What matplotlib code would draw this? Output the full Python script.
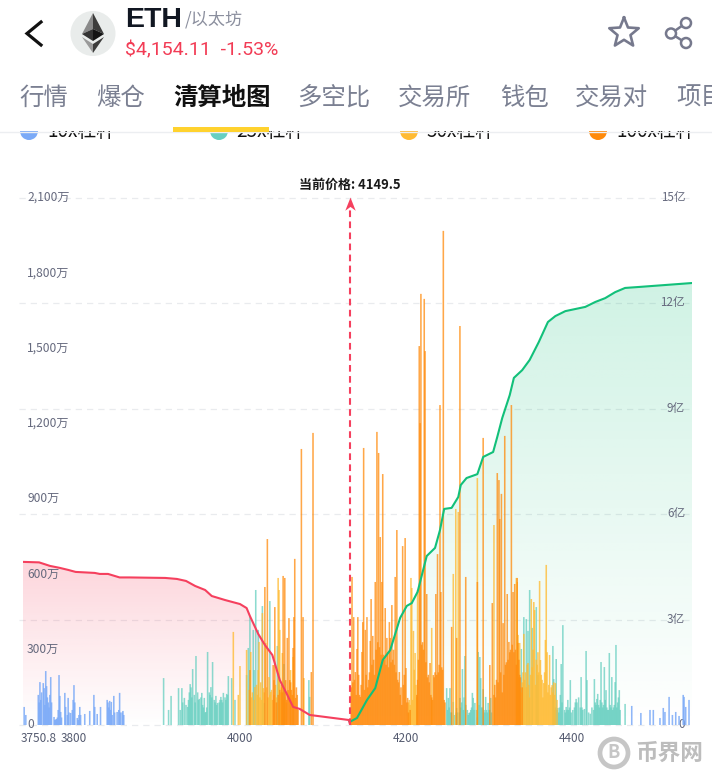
import numpy as np
import matplotlib
matplotlib.use("Agg")
import matplotlib.pyplot as plt
from matplotlib.patches import Polygon, Circle, Rectangle, Ellipse
from matplotlib.path import Path
from matplotlib.transforms import ScaledTranslation

FONT = ['Noto Sans CJK SC', 'DejaVu Sans']
plt.rcParams['font.family'] = FONT

# ---------- data ----------
LEFT_TICKS = [0, 300, 600, 900, 1200, 1500, 1800, 2100]
LEFT_LABELS = ['0', '300万', '600万', '900万', '1,200万', '1,500万', '1,800万', '2,100万']
RIGHT_TICKS = [0, 3, 6, 9, 12, 15]
RIGHT_LABELS = ['0', '3亿', '6亿', '9亿', '12亿', '15亿']
X_TICKS = [3757, 3800, 4000, 4200, 4400]
X_LABELS = ['3750.8', '3800', '4000', '4200', '4400']
CURRENT_X = 4132.5
CURRENT_LABEL = '当前价格: 4149.5'

blue_x = [3740, 3742, 3757, 3759, 3763, 3764, 3766, 3767, 3771, 3772, 3776, 3779, 3782, 3783, 3784, 3789, 3790,
          3793, 3796, 3799, 3800, 3804, 3806, 3807, 3813, 3819, 3824, 3825, 3828, 3832, 3840, 3843, 3845, 3846,
          3848, 3852, 3855, 3859,
          4472, 4483, 4494, 4498, 4506, 4510, 4512, 4517, 4521, 4525, 4529, 4534, 4535, 4537, 4541,
          3758, 3760, 3761, 3765, 3768, 3769, 3770, 3773, 3777, 3778, 3780, 3781, 3785, 3792, 3794, 3798, 3801,
          3805, 3808, 3841, 3842, 3844, 3849, 3854, 3856, 3858, 3860]
blue_v = [72, 40, 120, 171, 167, 147, 215, 155, 120, 191, 32, 24, 199, 116, 52, 128, 72,
          108, 48, 100, 159, 28, 40, 72, 44, 56, 120, 72, 44, 72, 100, 96, 92, 40,
          116, 52, 128, 56,
          76, 48, 60, 60, 28, 68, 52, 112, 40, 52, 36, 120, 112, 72, 100,
          90, 100, 130, 80, 110, 90, 70, 90, 20, 22, 30, 60, 30, 40, 50, 60, 90,
          20, 40, 90, 70, 60, 50, 60, 50, 50, 40]

teal_x = [3908, 3914, 3917, 3926, 3930, 3933, 3937, 3940, 3943, 3947, 3951, 3954, 3957, 3959, 3961, 3965, 3967,
          3971, 3973, 3977, 3980, 3984, 3986, 3990, 3994, 4008, 4010, 4012, 4016, 4017, 4019, 4022, 4027, 4029,
          4036, 4045, 4047, 4053, 4083, 4084,
          4249, 4251, 4253, 4257, 4261, 4265, 4268, 4271, 4276, 4280, 4281, 4283, 4287, 4289, 4290, 4293, 4296,
          4299, 4302,
          4339, 4342, 4345, 4347, 4349, 4352, 4357, 4359, 4377, 4378, 4381, 4383, 4386, 4387, 4389, 4393, 4395,
          4398, 4401, 4405, 4411, 4415, 4417, 4418, 4427, 4430, 4431, 4435, 4439, 4441, 4445, 4448, 4452, 4453,
          4457, 4464]
teal_v = [187, 60, 116, 147, 147, 108, 72, 163, 223, 275, 104, 128, 108, 52, 291, 151, 251,
          116, 88, 112, 128, 124, 195, 187, 100, 199, 307, 430, 379, 219, 538, 379, 474, 88,
          494, 315, 207, 243, 179, 112,
          147, 108, 147, 92, 68, 108, 223, 275, 48, 128, 108, 88, 291, 271, 187, 143, 112,
          88, 108,
          303, 430, 422, 375, 538, 387, 470, 199, 315, 183, 263, 68, 120, 243, 398, 72, 100,
          179, 60, 104, 191, 64, 295, 179, 183, 104, 124, 251, 231, 139, 287, 191, 171, 319,
          139, 84]
teal_floor_x = [3928, 3931, 3935, 3938, 3939, 3941, 3942, 3945, 3946, 3949, 3950, 3953, 3955, 3956, 3958, 3960, 3963,
                3964, 3966, 3969, 3970, 3972, 3975, 3976, 3978, 3979, 3982, 3983, 3985,
                4250, 4252, 4254, 4255, 4258, 4260, 4262, 4264, 4266, 4267, 4269, 4270, 4272, 4274, 4275, 4277, 4278,
                4279, 4282, 4285, 4286, 4288, 4291, 4292, 4294, 4295, 4297, 4298, 4300, 4301, 4303,
                4379, 4380, 4382, 4384, 4385, 4388, 4391, 4392, 4394, 4396, 4397, 4399, 4403, 4404, 4406, 4408, 4410,
                4412, 4413, 4420, 4422, 4424, 4426, 4428, 4429, 4432, 4433, 4434, 4436, 4437, 4438, 4440, 4442, 4443,
                4444, 4446, 4447, 4449, 4450, 4451, 4454, 4455, 4456, 4458]
teal_floor_v = [60, 90, 80, 100, 130, 150, 110, 120, 90, 130, 100, 110, 80, 70, 50, 70, 130,
                120, 110, 100, 90, 80, 90, 100, 100, 90, 110, 100, 120,
                60, 70, 50, 50, 40, 50, 50, 50, 70, 90, 60, 110, 80, 60, 40, 50, 60,
                70, 60, 60, 30, 80, 70, 70, 60, 50, 60, 50, 60, 60, 50,
                60, 70, 60, 50, 70, 90, 60, 50, 60, 60, 70, 50, 70, 90, 90, 110, 70,
                70, 60, 50, 45, 70, 60, 90, 80, 80, 70, 100, 90, 70, 80, 100, 70, 60,
                60, 80, 70, 60, 70, 80, 70, 90, 110, 60]

yellow_x = [3992, 3998, 4000, 4008, 4013, 4018, 4022, 4023, 4027, 4028, 4031, 4035, 4037, 4046, 4047, 4048, 4051,
            4061, 4064, 4077,
            4204, 4206, 4207, 4209, 4211, 4214, 4231, 4257, 4260, 4263, 4286, 4306,
            4333, 4334, 4335, 4337, 4342, 4345, 4347, 4349, 4351, 4354, 4355, 4358, 4361, 4362, 4365, 4366, 4368,
            4369, 4371, 4373, 4376, 4380]
yellow_v = [371, 120, 235, 299, 291, 151, 219, 331, 446, 147, 327, 191, 132, 586, 538, 379, 287,
            219, 271, 187,
            100, 586, 546, 375, 287, 538, 387, 602, 861, 849, 984, 797,
            586, 570, 359, 327, 363, 150, 247, 110, 502, 490, 458, 240, 574, 259, 110, 167, 339,
            638, 130, 279, 159, 167]
yellow_floor_x = [4011, 4014, 4015, 4017, 4020, 4021, 4024, 4025, 4026, 4029, 4032, 4034, 4036, 4038, 4039, 4041, 4043,
                  4044, 4049, 4050, 4052, 4054, 4056,
                  4203, 4205, 4208, 4210, 4212, 4213,
                  4336, 4338, 4339, 4340, 4341, 4343, 4344, 4346, 4348, 4350, 4352, 4353, 4356, 4357, 4359, 4360,
                  4363, 4364, 4367, 4370, 4372, 4374, 4375, 4377, 4378, 4379, 4382]
yellow_floor_v = [140, 110, 130, 100, 160, 120, 110, 170, 100, 130, 150, 110, 120, 140, 100, 120, 160,
                  110, 130, 150, 100, 110, 90,
                  90, 80, 100, 220, 160, 110,
                  190, 150, 130, 170, 210, 180, 210, 240, 160, 200, 230, 300, 160, 260, 290, 210,
                  200, 180, 210, 290, 160, 120, 150, 130, 170, 120, 100]

orange_x = [4012, 4030, 4033, 4040, 4041, 4042, 4052, 4053, 4054, 4055, 4056, 4057, 4058, 4059, 4060, 4062, 4063, 4064,
            4065, 4066, 4067, 4074, 4076, 4086, 4088,
            4135, 4136, 4137, 4139, 4140, 4141, 4142, 4143, 4145, 4146, 4147, 4148, 4149, 4151, 4152, 4153, 4154,
            4157, 4158, 4159, 4160, 4161, 4163, 4164, 4165, 4166, 4167, 4169, 4170, 4171, 4172, 4174, 4175, 4176,
            4177, 4178, 4180, 4181, 4182, 4183, 4185, 4186, 4187, 4188, 4189, 4190, 4192, 4193, 4195, 4196, 4198,
            4199, 4200, 4201, 4202, 4205, 4213, 4216, 4217, 4218, 4219, 4222, 4223, 4224, 4225, 4226, 4229, 4231,
            4233, 4234, 4236, 4237, 4238, 4239, 4241, 4242, 4243, 4245, 4246, 4255, 4261, 4265, 4272, 4286, 4293,
            4301, 4304, 4310, 4311, 4312, 4313, 4315, 4316, 4317, 4318, 4319, 4320, 4322, 4323, 4324, 4326, 4327,
            4328, 4329, 4330, 4331, 4333, 4334, 4335, 4337, 4340]
orange_v = [219, 550, 741, 239, 179, 470, 594, 139, 586, 179, 100, 347, 139, 426, 179, 140, 120, 307,
            430, 662, 108, 1100, 430, 211, 1164,
            590, 170, 430, 211, 120, 303, 430, 200, 112, 160, 291, 410, 1104, 379, 200, 430, 150,
            335, 502, 240, 355, 260, 570, 300, 1168, 330, 1084, 749, 280, 570, 1000, 260, 466, 240,
            347, 290, 410, 347, 250, 478, 300, 240, 590, 210, 777, 180, 211, 120, 80, 713, 200,
            745, 227, 90, 108, 60, 120, 1510, 1203, 1718, 320, 1698, 1490, 250, 522, 190, 247, 110,
            199, 190, 522, 200, 681, 210, 1275, 530, 230, 1969, 100, 391, 347, 1590, 590, 570, 1144,
            239, 486, 1004, 170, 976, 821, 921, 130, 406, 200, 1152, 240, 522, 260, 331, 300, 1275,
            320, 530, 290, 562, 240, 586, 327, 200, 150]
orange_floor_x = [4044, 4046, 4048, 4050, 4051, 4061, 4068, 4069, 4070,
                  4134, 4138, 4144, 4150, 4155, 4156, 4162, 4168, 4173, 4179, 4184, 4191, 4194, 4197, 4203, 4214,
                  4215, 4220, 4221, 4227, 4228, 4230, 4232, 4235, 4240, 4244, 4247,
                  4306, 4307, 4308, 4309, 4314, 4321, 4325, 4332, 4336, 4338]
orange_floor_v = [90, 120, 140, 160, 130, 170, 150, 120, 60,
                  150, 180, 120, 140, 180, 210, 200, 310, 280, 230, 260, 170, 150, 160, 50, 180,
                  260, 330, 300, 200, 170, 120, 100, 210, 240, 220, 90,
                  120, 160, 110, 180, 210, 250, 290, 300, 260, 190]

red_x = [3738.6, 3758, 3771, 3783, 3793, 3802, 3825, 3831, 3841, 3855, 3867, 3910, 3924, 3935, 3946, 3958, 3966,
         3982, 4000, 4008, 4012, 4022, 4030, 4039, 4048, 4057, 4064, 4072, 4084, 4131, 4132.5]
red_v = [650, 648, 634, 626, 618, 610, 606, 602, 602, 588, 588, 586, 582, 574, 554, 538, 514,
         498, 482, 466, 434, 363, 319, 279, 179, 120, 72, 64, 40, 20, 4]

green_x = [4132.5, 4141, 4153, 4163, 4172, 4181, 4193, 4201, 4207, 4214, 4225, 4235, 4241, 4246, 4255, 4263, 4266,
           4273, 4286, 4293, 4305, 4310, 4316, 4325, 4330, 4340, 4349, 4360, 4371, 4380, 4392, 4416, 4428, 4440,
           4452, 4464, 4482, 4544.6]
green_v = [0.09, 0.2, 0.71, 1.05, 1.85, 2.13, 3.05, 3.39, 3.47, 3.79, 4.81, 5.04, 5.55, 6.15, 6.18, 6.49, 6.83,
           7.03, 7.14, 7.63, 7.77, 8.2, 8.74, 9.39, 9.88, 10.1, 10.39, 10.9, 11.47, 11.64, 11.78, 11.9, 12.04, 12.15,
           12.32, 12.44, 12.47, 12.58]

LEGEND = ['10x杠杆', '25x杠杆', '50x杠杆', '100x杠杆']
TABS = ['行情', '爆仓', '清算地图', '多空比', '交易所', '钱包', '交易对', '项目']

BLUE, TEAL, YELLOW, ORANGE = '#7baaf7', '#66cfc0', '#ffbb33', '#ff8a0a'
RED, GREEN = '#f5405e', '#12c07a'
W, H = 712, 780

# ---------- figure ----------
fig = plt.figure(figsize=(W / 100, H / 100), dpi=100, facecolor='white')
rect = [23 / W, 1 - 725 / H, (692 - 23) / W, (725 - 198) / H]
ax2 = fig.add_axes(rect, zorder=1)
ax = fig.add_axes(rect, zorder=2)
ax.patch.set_visible(False)
XLIM = (3738.6, 4544.6)
for a in (ax, ax2):
    a.set_xlim(*XLIM)
    for s in a.spines.values():
        s.set_visible(False)
ax.set_ylim(0, 2100)
ax2.set_ylim(0, 15)

LBL = '#666a7e'
up = ScaledTranslation(0, 2 / 100, fig.dpi_scale_trans)
ax.set_yticks(LEFT_TICKS, LEFT_LABELS)
ax.tick_params(axis='y', length=0, pad=-2.9, labelsize=8.7, labelcolor=LBL, direction='in')
for t in ax.get_yticklabels():
    t.set_ha('left')
    t.set_transform(t.get_transform() + up)
ax.set_xticks(X_TICKS, X_LABELS)
ax.tick_params(axis='x', length=0, pad=5, labelsize=8.5, labelcolor='#555b70')
ax2.set_xticks([])
ax2.yaxis.tick_right()
ax2.set_yticks(RIGHT_TICKS, RIGHT_LABELS)
ax2.tick_params(axis='y', length=0, pad=-5, labelsize=8.4, labelcolor=LBL)
for t in ax2.get_yticklabels():
    t.set_ha('right')
    t.set_transform(t.get_transform() + up)
for v in RIGHT_TICKS:
    ax2.plot([-0.006, 1.003], [v, v], transform=ax2.get_yaxis_transform(), clip_on=False,
             color='#e9ebee', lw=0.9, dashes=(5, 4), zorder=0)


def gradient(a, xs, ys, rgb, alpha_top, zorder):
    """vertical fade from the curve's top to the baseline, clipped to the area below the curve"""
    top = max(ys)
    col = np.zeros((256, 1, 4))
    col[..., :3] = matplotlib.colors.to_rgb(rgb)
    col[..., 3] = np.linspace(alpha_top, 0, 256)[:, None]
    im = a.imshow(col, extent=[min(xs), max(xs), 0, top], aspect='auto', zorder=zorder, origin='upper')
    verts = [(xs[0], 0)] + list(zip(xs, ys)) + [(xs[-1], 0)]
    im.set_clip_path(Polygon(verts, closed=True, transform=a.transData))
    a.set_xlim(*XLIM)


gradient(ax, red_x, red_v, '#f7536d', 0.24, 1)
gradient(ax2, green_x, green_v, '#13c07a', 0.2, 1)
ax.set_ylim(0, 2100)
ax2.set_ylim(0, 15)

BW = 1.9
for xs, vs, c, al, z in [(blue_x, blue_v, BLUE, 0.85, 2),
                         (teal_x + teal_floor_x, teal_v + teal_floor_v, TEAL, 0.75, 3),
                         (yellow_x + yellow_floor_x, yellow_v + yellow_floor_v, YELLOW, 0.78, 4),
                         (orange_x + orange_floor_x, orange_v + orange_floor_v, ORANGE, 0.75, 5)]:
    ax.bar(xs, vs, width=BW, color=c, alpha=al, linewidth=0, zorder=z, snap=False)

ax.plot(red_x, red_v, color=RED, lw=1.5, zorder=7, solid_joinstyle='round')
ax.plot(green_x, green_v, color=GREEN, lw=1.5, zorder=7, transform=ax2.transData, solid_joinstyle='round')

ax.plot([CURRENT_X, CURRENT_X], [0, 2060], color=RED, lw=1.5, dashes=(3.2, 2.1), zorder=8)
arrow = Path([(0, 1), (-0.75, -0.9), (0, -0.35), (0.75, -0.9), (0, 1)])
ax.plot([CURRENT_X], [2078], marker=arrow, ms=10, color=RED, mew=0, zorder=9, clip_on=False)

# ---------- page furniture, placed in pixel space ----------
ui = fig.add_axes([0, 0, 1, 1], zorder=5)
ui.set_xlim(0, W)
ui.set_ylim(H, 0)
ui.axis('off')
ui.patch.set_visible(False)

ui.text(350, 185, CURRENT_LABEL, ha='center', va='center', fontsize=9.4, fontweight='bold', color='#1a1a1a')

# legend, half hidden behind the page header
for cx, tx, c, s in zip([29, 219, 409, 598], [47, 236, 426, 616], [BLUE, TEAL, YELLOW, ORANGE], LEGEND):
    ui.add_patch(Circle((cx, 131), 9, color=c, lw=0, zorder=1))
    ui.text(tx, 131.5, s, ha='left', va='center', fontsize=13.6, color='#111111', zorder=1)
ui.add_patch(Rectangle((0, 0), W, 131, color='white', lw=0, zorder=2))
ui.plot([0, W], [131.5, 131.5], color='#eceef1', lw=1, zorder=2)

# back chevron
ui.plot([41, 27, 41], [22, 33.5, 45], color='#111111', lw=2.3, zorder=3, solid_joinstyle='miter')
# coin badge
ui.add_patch(Ellipse((93, 33.5), 45, 45, color='#e9eceb', lw=0, zorder=3))
for pts, c in [([(93, 13), (82, 34), (93, 29)], '#8a8a8a'), ([(93, 13), (104, 34), (93, 29)], '#3c3c3b'),
               ([(82, 34), (93, 29), (93, 41)], '#343434'), ([(104, 34), (93, 29), (93, 41)], '#141414'),
               ([(82, 37), (93, 44), (93, 53)], '#9a9a9a'), ([(104, 37), (93, 44), (93, 53)], '#3c3c3b')]:
    ui.add_patch(Polygon(pts, closed=True, color=c, lw=0, zorder=4))

ui.text(125, 20, 'ETH', ha='left', va='center', fontsize=20.5, fontweight='bold', color='#111722',
        family=['Liberation Sans'], zorder=4)
ui.text(185, 20, '/以太坊', ha='left', va='center', fontsize=12.3, color='#8b8f9e', zorder=4)
ui.text(125, 50, '$4,154.11  -1.53%', ha='left', va='center', fontsize=14, color='#f23c55',
        family=['Roboto'], zorder=4)

# star
ang = np.deg2rad(np.arange(11) * 36 - 90)
rad = np.array([15.5, 6.8] * 5 + [15.5])
ui.plot(624 + rad * np.cos(ang), 33 + rad * np.sin(ang), color='#76798d', lw=1.9, zorder=4, solid_joinstyle='round')
# share
ui.plot([686, 671, 686], [23, 33.5, 43], color='#76798d', lw=1.8, zorder=4)
for cx, cy in [(686, 23), (671, 33.5), (686, 43)]:
    ui.add_patch(Circle((cx, cy), 5, fc='white', ec='#76798d', lw=1.8, zorder=5))

# tabs
for s, x in zip(TABS, [19, 96, 173, 297, 398, 500, 575, 676]):
    active = s == '清算地图'
    ui.text(x, 98, s, ha='left', va='center', fontsize=17.6, color='#111111' if active else '#7b8092',
            fontweight='bold' if active else 'normal', zorder=4)
ui.add_patch(Rectangle((173, 127), 96, 4.5, color='#ffd22e', lw=0, zorder=4))

# watermark
ui.add_patch(Circle((614, 753), 14, fc='none', ec='#c6c6c6', lw=3.4, zorder=4))
ui.text(614, 753, 'B', ha='center', va='center', fontsize=13, fontweight='bold', color='#c6c6c6', zorder=4)
ui.text(635, 753, '币界网', ha='left', va='center', fontsize=16.3, fontweight='bold', color='#bdbdbd', zorder=4)

fig.savefig('out.png', dpi=100, facecolor='white')
